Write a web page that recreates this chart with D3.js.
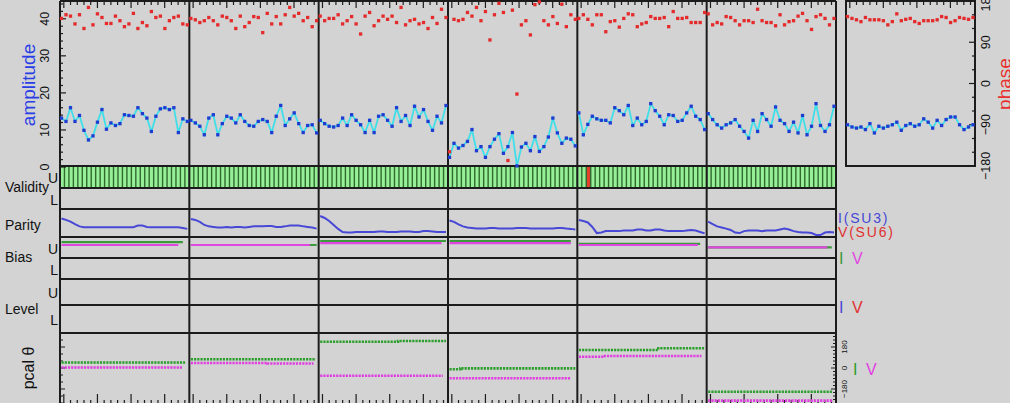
<!DOCTYPE html>
<html>
<head>
<meta charset="utf-8">
<script src="https://cdn.jsdelivr.net/npm/d3@7"></script>
<style>
  html, body { margin: 0; padding: 0; background: #d3d3d3; }
  svg { display: block; font-family: "Liberation Sans", Arial, Helvetica, sans-serif; }
</style>
</head>
<body>
<svg id="chart" width="1010" height="403"></svg>
<script>
// ---- data -------------------------------------------------------------
const scans = ["1", "2", "3", "4", "5", "6"];

// visibility amplitude per scan (29 integrations each)
const amplitude = [
  [13.2,12.3,16.0,12.3,13.9,9.9,7.3,8.4,12.1,15.5,10.2,11.9,11.2,11.7,14.1,13.9,13.7,16.0,14.4,13.2,9.6,13.7,15.7,16.0,15.5,16.0,9.3,13.0,12.3],
  [12.6,11.9,11.0,8.7,13.2,14.1,8.7,11.7,13.7,13.2,11.9,14.1,12.3,11.2,11.0,12.3,12.8,12.3,9.3,13.7,16.6,11.2,13.0,14.6,11.7,9.3,11.2,11.4,9.2],
  [12.6,11.7,11.0,10.8,11.2,13.2,11.2,14.1,12.6,11.4,9.3,12.6,9.3,13.7,14.1,12.6,11.0,16.0,12.3,13.9,11.2,16.4,13.5,15.5,12.3,9.9,13.7,11.9,16.6],
  [2.6,6.4,5.1,5.8,6.9,10.1,4.4,5.5,2.6,5.5,7.5,9.0,3.7,5.5,9.3,0.3,5.4,6.4,4.4,8.2,4.2,5.5,8.1,13.2,9.2,6.4,7.8,7.5,5.7],
  [14.6,8.7,11.5,13.7,13.0,12.6,12.6,11.9,16.0,15.2,14.1,16.6,11.2,13.2,11.4,12.3,17.1,15.2,13.7,11.4,14.1,13.9,12.3,12.6,14.6,16.4,13.7,12.8,10.1],
  [14.4,12.8,11.4,10.5,11.4,11.9,12.8,11.0,9.6,7.8,12.6,9.6,14.4,12.8,11.0,16.2,12.6,11.7,9.6,12.1,9.2,13.9,8.7,11.0,17.1,11.2,9.6,11.4,16.4]
];

// visibility phase per scan, degrees
const phase = [
  [142,150,147,130,150,120,166,128,152,144,131,131,147,137,124,130,153,120,133,126,157,144,147,120,137,144,147,130,128],
  [142,139,133,137,144,137,128,147,144,137,120,147,124,133,146,144,111,153,130,146,130,150,166,147,153,137,144,124,137],
  [147,137,142,142,150,130,137,146,130,108,147,155,126,137,147,140,147,133,166,128,137,140,130,133,120,144,131,162,144],
  [-149,140,137,140,155,147,166,137,157,95,150,175,155,-168,160,-23,128,137,106,172,178,137,128,146,131,173,124,150,140],
  [142,150,140,128,150,150,113,135,137,123,142,152,150,124,130,133,146,142,142,144,124,157,142,142,144,133,133,133,155],
  [152,128,133,130,146,144,137,128,137,137,133,162,137,133,133,126,150,128,135,137,147,153,137,118,146,150,142,128,142]
];

// scan-averaged spectrum shown in the side panel
const summaryAmplitude = [11.4,10.8,10.5,10.8,10.1,11.7,9.2,11.0,10.5,11.0,11.4,12.1,9.9,11.2,11.7,11.0,11.4,13.0,12.1,10.5,12.6,11.2,12.8,13.5,13.5,11.4,10.1,10.8,11.4];
const summaryPhase = [146,142,139,135,144,139,139,139,137,128,135,152,137,140,142,135,131,137,137,137,139,146,144,133,137,144,142,140,144];

// validity flags (1 = valid, 0 = flagged), upper sideband
const validity = [
  [1,1,1,1,1,1,1,1,1,1,1,1,1,1,1,1,1,1,1,1,1,1,1,1,1,1,1,1,1],
  [1,1,1,1,1,1,1,1,1,1,1,1,1,1,1,1,1,1,1,1,1,1,1,1,1,1,1,1,1],
  [1,1,1,1,1,1,1,1,1,1,1,1,1,1,1,1,1,1,1,1,1,1,1,1,1,1,1,1,1],
  [1,1,1,1,1,1,1,1,1,1,1,1,1,1,1,1,1,1,1,1,1,1,1,1,1,1,1,1,1],
  [1,1,0,1,1,1,1,1,1,1,1,1,1,1,1,1,1,1,1,1,1,1,1,1,1,1,1,1,1],
  [1,1,1,1,1,1,1,1,1,1,1,1,1,1,1,1,1,1,1,1,1,1,1,1,1,1,1,1,1]
];

// parity error rate, I (SU3), percent of range
const parityI = [
  [66,61,55,46,38,35,35,35,35,35,35,35,35,35,35,35,35,41,41,36,35,35,35,35,35,35,35,32,29],
  [64,61,54,43,38,36,34,34,36,34,36,36,34,36,38,38,38,39,39,36,36,38,41,41,41,38,36,34,30],
  [75,68,57,43,29,18,16,16,18,18,18,18,18,20,20,18,18,18,20,20,20,18,18,21,21,20,18,18,18],
  [59,54,45,38,34,32,30,30,30,32,32,30,30,30,30,32,32,32,30,30,30,30,30,30,32,32,30,29,27],
  [61,57,52,36,14,16,21,21,21,21,23,23,23,27,27,23,23,27,27,23,21,21,21,21,23,25,23,18,13],
  [55,46,38,34,30,25,16,14,21,23,23,23,21,23,23,23,27,30,27,21,18,16,16,14,7,7,16,18,16]
];

// sampler bias level, upper sideband: [first integration, last integration, level]
const biasI = [[0,27,0.76],[0,28,0.62],[0,28,0.81],[0,27,0.81],[0,27,0.67],[0,27.5,0.51]];
const biasV = [[0,26,0.62],[0,26.5,0.62],[0,27,0.71],[0,27,0.71],[0,26.5,0.62],[0,26.5,0.51]];

// phase-cal tone phase, steps as [integration, degrees]
const pcalI = [
  [[0,47],[27.5,47]],
  [[0,75],[27.8,75]],
  [[0,225],[17.3,231],[28,231]],
  [[0,-11],[2.4,-3],[28,-3]],
  [[0,154],[17.7,169],[28,169]],
  [[0,-203],[27.8,-203]]
];
const pcalV = [
  [[0,4],[26.8,4]],
  [[0,43],[17,38],[27.3,38]],
  [[0,-66],[27.3,-66]],
  [[0,-88],[27,-88]],
  [[0,97],[5.5,103],[27.3,103]],
  [[0,-280],[27.8,-280]]
];

// axis tick labels
const ampTicks = [0, 10, 20, 30, 40];
const phaseTicks = [-180, -90, 0, 90, 180];
const pcalTicks = [-180, 0, 180];

// ---- layout -----------------------------------------------------------
const svg = d3.select("#chart");
const C = {
  bg: "#d3d3d3", frame: "#1c1c1c", amp: "#1f3bd0", ampLine: "#3fdfe9",
  phase: "#e42a2a", valid: "#97ef97", validEdge: "#2f6a2f", bad: "#e5402c",
  parity: "#4848d6", parityV: "#e03030", biasI: "#3c9a3c", biasV: "#e046e0",
  pcalI: "#2c9e2c", pcalV: "#e03ee0", ampTitle: "#2a3ee6", phaseTitle: "#e83030"
};

const X0 = 60, X1 = 836;
const rows = {
  top: [1, 166], valU: [166, 188], valL: [188, 209], parity: [209, 237],
  biasU: [237, 258], biasL: [258, 279], levU: [279, 305], levL: [305, 333], pcal: [333, 404]
};
const SX0 = 846, SX1 = 975; // side panel

const panel = d3.scaleBand().domain(scans).range([X0, X1]);
const bw = panel.bandwidth();
const sampleX = s => d3.scaleLinear([0, 28], [panel(s) + 1.5, panel(s) + bw - 2]);
const timeX = s => d3.scaleLinear([-1.7, 56], [panel(s), panel(s) + bw]);
const sideSampleX = d3.scaleLinear([0, 28], [SX0 + 1.5, SX1 - 2]);
const sideTimeX = d3.scaleLinear([-1.7, 56], [SX0, SX1]);

const amp = d3.scaleLinear([0, 44.8], [167, rows.top[0]]);
const ph = d3.scaleLinear([-180, 180], [rows.top[1], rows.top[0]]);
const parity = d3.scaleLinear([0, 100], [rows.parity[1], rows.parity[0]]);
const bias = d3.scaleLinear([0, 1], [rows.biasU[1], rows.biasU[0]]);
const pcal = d3.scaleLinear([-300, 300], [403, 333]);

svg.append("rect").attr("width", 1010).attr("height", 403).attr("fill", C.bg);

const gValid = svg.append("g");
const gFrame = svg.append("g");
const gData = svg.append("g");
const gText = svg.append("g");

// ---- validity stripes --------------------------------------------------
gValid.append("rect")
  .attr("x", X0).attr("y", rows.valU[0])
  .attr("width", X1 - X0).attr("height", rows.valU[1] - rows.valU[0])
  .attr("fill", C.validEdge);
scans.forEach((s, k) => {
  const vb = d3.scaleBand().domain(d3.range(validity[k].length)).range([panel(s), panel(s) + bw]);
  gValid.selectAll(null).data(validity[k]).enter().append("rect")
    .attr("x", (d, i) => vb(i) + 0.7)
    .attr("y", rows.valU[0])
    .attr("width", vb.bandwidth() - 1.4)
    .attr("height", rows.valU[1] - rows.valU[0])
    .attr("fill", d => d ? C.valid : C.bad);
});

// ---- frames ------------------------------------------------------------
const hLines = [rows.top[0], rows.top[1], rows.valU[1], rows.valL[1], rows.parity[1],
  rows.biasU[1], rows.biasL[1], rows.levU[1], rows.levL[1], rows.pcal[1]];
gFrame.selectAll(null).data(hLines).enter().append("line")
  .attr("x1", X0).attr("x2", X1).attr("y1", d => d).attr("y2", d => d)
  .attr("stroke", C.frame).attr("stroke-width", 2);
gFrame.selectAll(null).data(scans.map(s => panel(s)).concat([X1])).enter().append("line")
  .attr("x1", d => d).attr("x2", d => d).attr("y1", rows.top[0]).attr("y2", 404)
  .attr("stroke", C.frame).attr("stroke-width", 2);
gFrame.append("rect")
  .attr("x", SX0).attr("y", rows.top[0]).attr("width", SX1 - SX0).attr("height", rows.top[1] - rows.top[0])
  .attr("fill", "none").attr("stroke", C.frame).attr("stroke-width", 2);

// time ticks along the top edges and the bottom edge
function timeTicks(tx, y, dir) {
  const minutes = d3.range(0, 55, 3);
  gFrame.selectAll(null).data(minutes).enter().append("line")
    .attr("x1", m => tx(m)).attr("x2", m => tx(m))
    .attr("y1", y).attr("y2", m => y + dir * (m % 15 === 0 ? (dir > 0 ? 7 : 10) : 4))
    .attr("stroke", C.frame).attr("stroke-width", 1.2);
}
scans.forEach(s => { timeTicks(timeX(s), rows.top[0], 1); timeTicks(timeX(s), 404, -1); });
timeTicks(sideTimeX, rows.top[0], 1);

// amplitude axis (left)
gFrame.selectAll(null).data(d3.range(0, 44.5, 2)).enter().append("line")
  .attr("x1", X0).attr("x2", v => X0 + (v % 10 === 0 ? 6 : 3))
  .attr("y1", v => amp(v)).attr("y2", v => amp(v))
  .attr("stroke", C.frame).attr("stroke-width", 1.2);
gText.selectAll(null).data(ampTicks).enter().append("text")
  .attr("transform", v => `translate(45,${amp(v)}) rotate(-90)`)
  .attr("text-anchor", "middle").attr("dominant-baseline", "central")
  .attr("font-size", 12.5).attr("fill", "#111").text(v => v);

// phase axis (right of side panel)
gFrame.selectAll(null).data(d3.range(-180, 181, 30)).enter().append("line")
  .attr("x1", SX1).attr("x2", v => SX1 - (v % 90 === 0 ? 6 : 3))
  .attr("y1", v => ph(v)).attr("y2", v => ph(v))
  .attr("stroke", C.frame).attr("stroke-width", 1.2);
gText.selectAll(null).data(phaseTicks).enter().append("text")
  .attr("transform", v => `translate(986,${ph(v)}) rotate(-90)`)
  .attr("text-anchor", "middle").attr("dominant-baseline", "central")
  .attr("font-size", 12.5).attr("fill", "#111").text(v => v === -180 ? "\u2212180" : v === -90 ? "\u221290" : v);

// pcal axes
gFrame.selectAll(null).data(d3.range(-300, 301, 60)).enter().append("line")
  .attr("x1", X0).attr("x2", v => X0 + (v % 180 === 0 ? 5 : 3))
  .attr("y1", v => pcal(v)).attr("y2", v => pcal(v))
  .attr("stroke", C.frame).attr("stroke-width", 1);
gFrame.selectAll(null).data(d3.range(-270, 271, 30)).enter().append("line")
  .attr("x1", X1).attr("x2", v => X1 - (v % 180 === 0 ? 5 : 3))
  .attr("y1", v => pcal(v)).attr("y2", v => pcal(v))
  .attr("stroke", C.frame).attr("stroke-width", 1);
gText.selectAll(null).data(pcalTicks).enter().append("text")
  .attr("transform", v => `translate(844,${pcal(v)}) rotate(-90)`)
  .attr("text-anchor", "middle").attr("dominant-baseline", "central")
  .attr("font-size", 8).attr("fill", "#111").text(v => v < 0 ? "\u2212" + (-v) : v);

// ---- data marks ----------------------------------------------------------
const sq = 3.3;
function drawSpectrum(xs, amps, phs) {
  const line = d3.line().x((d, i) => xs(i)).y(d => amp(d));
  gData.append("path").attr("d", line(amps))
    .attr("fill", "none").attr("stroke", C.ampLine).attr("stroke-width", 1.8);
  gData.selectAll(null).data(amps).enter().append("rect")
    .attr("x", (d, i) => xs(i) - sq / 2).attr("y", d => amp(d) - sq / 2)
    .attr("width", sq).attr("height", sq).attr("fill", C.amp);
  gData.selectAll(null).data(phs).enter().append("rect")
    .attr("x", (d, i) => xs(i) - sq / 2).attr("y", d => ph(d) - sq / 2)
    .attr("width", sq).attr("height", sq).attr("fill", C.phase);
}

scans.forEach((s, k) => {
  const xs = sampleX(s);
  drawSpectrum(xs, amplitude[k], phase[k]);

  // parity
  gData.append("path")
    .attr("d", d3.line().x((d, i) => xs(i)).y(d => parity(d))(parityI[k]))
    .attr("fill", "none").attr("stroke", C.parity).attr("stroke-width", 2);

  // bias
  [[biasI[k], C.biasI], [biasV[k], C.biasV]].forEach(([b, col]) => {
    gData.append("line")
      .attr("x1", xs(b[0])).attr("x2", xs(b[1]))
      .attr("y1", bias(b[2])).attr("y2", bias(b[2]))
      .attr("stroke", col).attr("stroke-width", 2.2);
  });

  // phase-cal
  [[pcalI[k], C.pcalI], [pcalV[k], C.pcalV]].forEach(([pts, col]) => {
    gData.append("path")
      .attr("d", d3.line().x(d => xs(d[0])).y(d => pcal(d[1])).curve(d3.curveStepAfter)(pts))
      .attr("fill", "none").attr("stroke", col).attr("stroke-width", 2.6)
      .attr("stroke-dasharray", "2.2,1");
  });
});

drawSpectrum(sideSampleX, summaryAmplitude, summaryPhase);

// ---- text ----------------------------------------------------------------
gText.append("text")
  .attr("transform", "translate(28,85) rotate(-90)")
  .attr("text-anchor", "middle").attr("dominant-baseline", "central")
  .attr("font-size", 19).attr("fill", C.ampTitle).text("amplitude");
gText.append("text")
  .attr("transform", "translate(1004,84) rotate(-90)")
  .attr("text-anchor", "middle").attr("dominant-baseline", "central")
  .attr("font-size", 19).attr("fill", C.phaseTitle).text("phase");

const rowTitles = [
  { t: "Validity", y: 187 }, { t: "Parity", y: 225 },
  { t: "Bias", y: 257 }, { t: "Level", y: 309 }
];
gText.selectAll(null).data(rowTitles).enter().append("text")
  .attr("x", 5).attr("y", d => d.y).attr("dominant-baseline", "central")
  .attr("font-size", 14).attr("fill", "#111").text(d => d.t);

const sidebands = [
  { t: "U", r: rows.valU }, { t: "L", r: rows.valL },
  { t: "U", r: rows.biasU }, { t: "L", r: rows.biasL },
  { t: "U", r: rows.levU }, { t: "L", r: rows.levL }
];
gText.selectAll(null).data(sidebands).enter().append("text")
  .attr("x", 58).attr("y", d => (d.r[0] + d.r[1]) / 2 + 1)
  .attr("text-anchor", "end").attr("dominant-baseline", "central")
  .attr("font-size", 14).attr("fill", "#111").text(d => d.t);

gText.append("text")
  .attr("transform", "translate(28,368) rotate(-90)")
  .attr("text-anchor", "middle").attr("dominant-baseline", "central")
  .attr("font-size", 16).attr("fill", "#111").text("pcal \u03b8");

// legends on the right of each strip
const legends = [
  { t: "I(SU3)", x: 838, y: 218, c: C.parity, ls: 1.8, fs: 14 },
  { t: "V(SU6)", x: 838, y: 232, c: C.parityV, ls: 1.8, fs: 14 },
  { t: "I", x: 839, y: 258, c: C.biasI, ls: 0, fs: 16 },
  { t: "V", x: 852, y: 258, c: C.biasV, ls: 0, fs: 16 },
  { t: "I", x: 839, y: 307, c: C.parity, ls: 0, fs: 16 },
  { t: "V", x: 852, y: 307, c: C.parityV, ls: 0, fs: 16 },
  { t: "I", x: 853, y: 369, c: C.pcalI, ls: 0, fs: 16 },
  { t: "V", x: 866, y: 369, c: C.pcalV, ls: 0, fs: 16 }
];
gText.selectAll(null).data(legends).enter().append("text")
  .attr("x", d => d.x).attr("y", d => d.y).attr("dominant-baseline", "central")
  .attr("font-size", d => d.fs).attr("letter-spacing", d => d.ls)
  .attr("fill", d => d.c).text(d => d.t);
</script>
</body>
</html>
